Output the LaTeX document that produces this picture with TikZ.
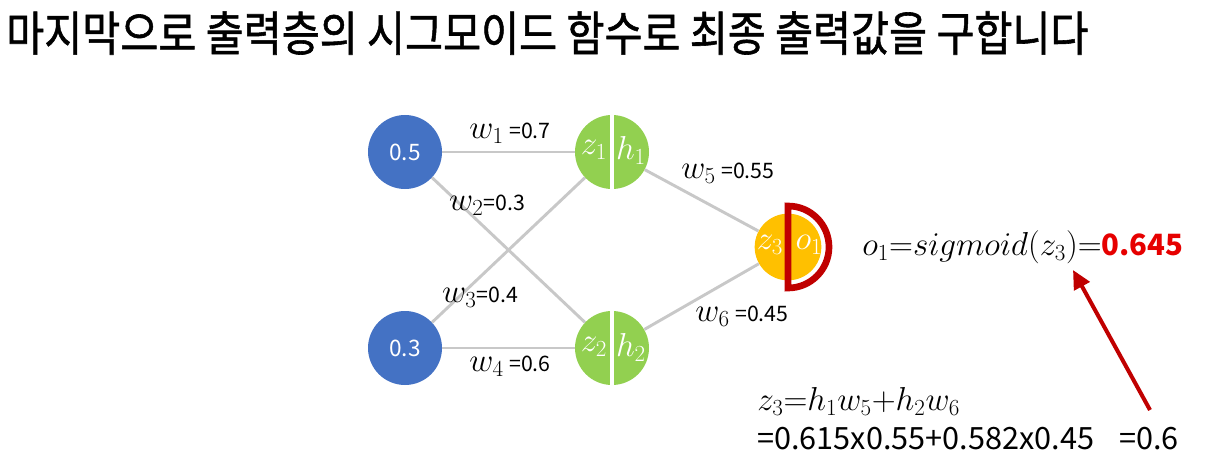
\documentclass[tikz,border=0pt]{standalone}
\usepackage{fontspec}
\usepackage{graphicx}
\setmainfont{Noto Sans CJK KR}
\newfontfamily\krfont[FakeBold=1.2]{Noto Sans CJK KR}
\usetikzlibrary{arrows.meta}
\definecolor{inblue}{HTML}{4472C4}
\definecolor{hidgreen}{HTML}{92D050}
\definecolor{outyellow}{HTML}{FFC000}
\definecolor{darkred}{HTML}{C00000}
\definecolor{brightred}{HTML}{E60000}
\definecolor{edgegray}{HTML}{C8C8C8}
\newcommand{\fs}[1]{\fontsize{#1pt}{#1pt}\selectfont}
\begin{document}
\begin{tikzpicture}[x=0.75pt,y=-0.75pt,
  inputnode/.style={circle,fill=inblue,minimum size=55.5pt,inner sep=0pt,text=white,font=\fs{17}},
  hiddennode/.style={circle,fill=hidgreen,minimum size=55.5pt,inner sep=0pt},
  outnode/.style={circle,fill=outyellow,minimum size=50pt,inner sep=0pt},
  edge/.style={draw=edgegray,line width=2.2pt},
  wlabel/.style={inner sep=0pt,font=\fs{16}},
  nodetext/.style={inner sep=0pt,text=white,font=\fs{25}},
  split/.style={draw=white,line width=3pt}]
\useasboundingbox (0,0) rectangle (1212,474);
% title
\node[anchor=west,inner sep=0pt,font=\krfont\fs{31}] (title) at (6,33) {\scalebox{1}[1.15]{마지막으로 출력층의 시그모이드 함수로 최종 출력값을 구합니다}};
% nodes
\node[inputnode] (i1) at (405,152) {0.5};
\node[inputnode] (i2) at (405,348) {0.3};
\node[hiddennode] (h1) at (612,152) {};
\node[hiddennode] (h2) at (612,348) {};
\node[outnode] (o) at (788,247) {};
% edges
\draw[edge] (i1) -- (h1);
\draw[edge] (i1) -- (h2);
\draw[edge] (i2) -- (h1);
\draw[edge] (i2) -- (h2);
\draw[edge] (h1) -- (o);
\draw[edge] (h2) -- (o);
% splits in hidden nodes
\draw[split] (h1.north) -- (h1.south);
\draw[split] (h2.north) -- (h2.south);
\node[nodetext] (z1t) at (594,150) {$z_1$};
\node[nodetext] (h1t) at (631,150) {$h_1$};
\node[nodetext] (z2t) at (594,347) {$z_2$};
\node[nodetext] (h2t) at (631,347) {$h_2$};
% output red half
\draw[draw=darkred,line width=5pt] (788,206) -- (788,288) arc[start angle=90,end angle=-90,radius=41] -- cycle;
\node[nodetext,font=\fs{23}] (z3t) at (770,245) {$z_3$};
\node[nodetext,font=\fs{23}] (o1t) at (809,245) {$o_1$};
% weight labels
\node[wlabel] (w1) at (510,133) {\fs{24}$w_1$\,\fs{16}=0.7};
\node[wlabel] (w2) at (487,205) {\fs{24}$w_2$\fs{16}=0.3};
\node[wlabel] (w3) at (480,297) {\fs{24}$w_3$\fs{16}=0.4};
\node[wlabel] (w4) at (510,366) {\fs{24}$w_4$\,\fs{16}=0.6};
\node[wlabel] (w5) at (728,173) {\fs{24}$w_5$\,\fs{16}=0.55};
\node[wlabel] (w6) at (742,316) {\fs{24}$w_6$\,\fs{16}=0.45};
% formula
\node[anchor=west,inner sep=0pt,font=\fs{25}] (sig) at (862,247) {$o_1{=}sigmoid(z_3){=}$\textcolor{brightred}{\fs{22}\bfseries 0.645}};
\node[anchor=west,inner sep=0pt,font=\fs{25}] (z3eq) at (757,401) {$z_3{=}h_1w_5{+}h_2w_6$};
\node[anchor=west,inner sep=0pt,font=\fs{23}] (calc) at (757,439) {=0.615x0.55+0.582x0.45};
\node[anchor=west,inner sep=0pt,font=\fs{23}] (res) at (1119,439) {=0.6};
\coordinate (astart) at (1150,410);
\coordinate (aend) at (1073,270);
\draw[darkred,line width=3pt,-{Triangle[length=14pt,width=13pt]}] (astart) -- (aend);
\end{tikzpicture}
\end{document}
